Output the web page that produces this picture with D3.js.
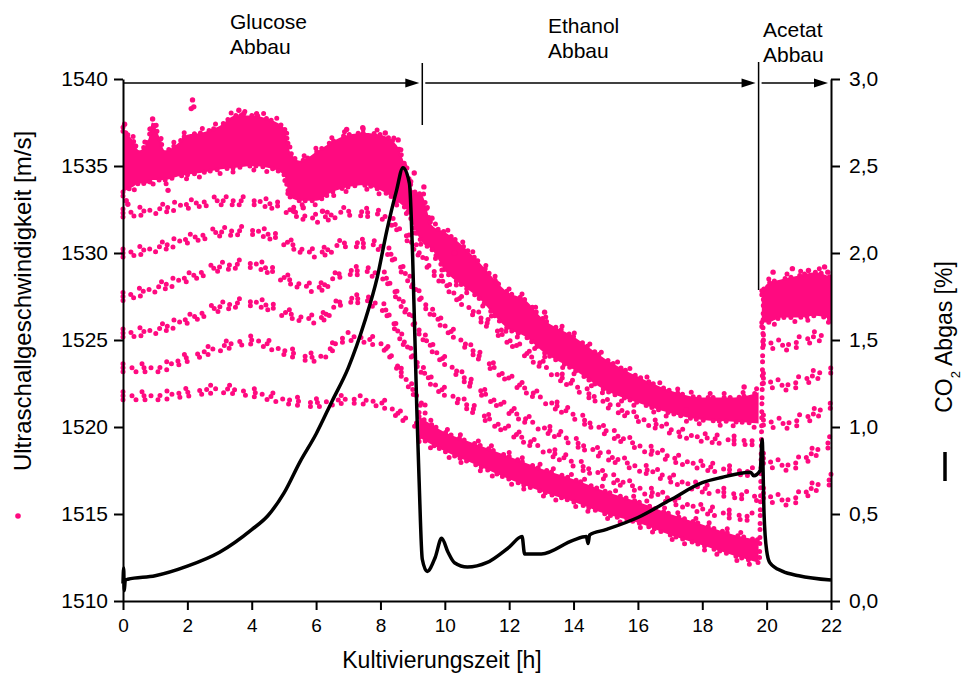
<!DOCTYPE html>
<html>
<head>
<meta charset="utf-8">
<script src="https://cdn.jsdelivr.net/npm/d3@7"></script>
<style>
body { margin: 0; background: #fff; }
svg text { font-family: "Liberation Sans", Arial, Helvetica, sans-serif; fill: #000; }
.axis path, .axis line { stroke: #000; stroke-width: 2; }
.axis text { font-size: 21px; }
.axis.bottom text { font-size: 19px; }
</style>
</head>
<body>
<svg id="chart" width="962" height="674"></svg>
<script>
// ---- ultrasound velocity [m/s], dense main band (glucose + ethanol phase)
var bandT  = [0,0.3,0.5,0.8,0.9,1.1,1.3,1.7,2.0,2.4,3.0,3.5,4.0,4.5,5.0,5.2,5.5,6.0,6.5,7.0,7.5,8.0,8.5,8.9,9.0,9.3,9.6,10,10.5,11,12,12.5,13,14,15,16,17,18,19,19.75];
var bandHi = [1537.0,1536.5,1535.9,1536.6,1537.5,1536.8,1535.9,1536.3,1536.8,1536.9,1537.3,1537.9,1537.9,1537.7,1537.2,1535.8,1535.3,1535.8,1536.4,1536.8,1536.9,1536.8,1536.2,1534.2,1533.6,1533.3,1531.6,1531.2,1530.5,1529.6,1527.7,1527.3,1526.3,1525.2,1523.9,1522.9,1522.1,1521.7,1521.7,1522.0];
var bandLo = [1533.5,1533.8,1534.0,1534.0,1534.2,1534.2,1534.2,1534.4,1534.5,1534.6,1534.8,1534.9,1535.0,1534.9,1534.5,1533.2,1533.0,1533.0,1533.5,1533.8,1533.9,1533.6,1533.0,1532.2,1531.7,1530.6,1530.2,1529.0,1528.2,1527.5,1525.6,1525.2,1524.4,1523.3,1522.1,1521.4,1520.8,1520.4,1520.3,1520.2];

// lower dense band during ethanol phase
var lowT  = [9.2,10,11,12,13,14,15,16,17,18,19,19.75];
var lowHi = [1520.6,1519.7,1519.0,1518.3,1517.6,1517.0,1516.3,1515.7,1515.0,1514.4,1513.8,1513.5];
var lowLo = [1519.4,1518.6,1517.8,1517.0,1516.3,1515.7,1515.0,1514.5,1513.8,1513.2,1512.6,1512.2];

// acetate phase band
var acetT  = [19.85,20.0,20.5,21.0,21.5,22.0];
var acetHi = [1527.6,1528.2,1528.5,1528.7,1528.9,1528.6];
var acetLo = [1526.0,1526.0,1526.3,1526.3,1526.4,1526.2];

// sparse echo rows below the main band
var echoT = [0,1,2,3,4,5,6,7,8,8.7,9.5,10.5,12,13.5,15,16.5,18,19.7];
var echo1 = [1532.3,1532.5,1532.8,1533.0,1533.0,1532.6,1532.0,1532.4,1532.2,1531.2,1529.3,1527.3,1525.0,1523.0,1521.4,1520.2,1519.4,1519.2];
var echo2 = [1530.0,1530.3,1530.8,1531.2,1531.3,1530.7,1530.0,1530.6,1530.4,1529.0,1526.8,1525.0,1522.8,1521.2,1519.8,1518.6,1517.8,1517.4];
var echo3 = [1527.5,1528.0,1528.6,1529.2,1529.4,1528.6,1528.0,1529.0,1528.8,1527.0,1524.8,1523.0,1521.0,1519.6,1518.4,1517.4,1516.5,1516.0];
var echo4 = [1525.4,1525.6,1526.2,1526.9,1527.2,1526.6,1526.2,1527.4,1527.0,1525.0,1522.8,1521.5,1519.8,1518.4,1517.2,1516.2,1515.3,1514.8];
var shortT = [0,1,2,3,4,5,6,7,8,8.7,9.4];
var echo5 = [1523.4,1523.4,1524.0,1524.6,1525.0,1524.4,1524.0,1525.2,1524.8,1523.0,1521.0];
var echo6 = [1521.8,1521.8,1522.0,1522.2,1522.0,1521.6,1521.4,1521.6,1521.4,1520.6,1520.0];

var acetEchoT = [19.9,20.5,21.0,21.5,22.0];
var acet1 = [1525.0,1524.7,1524.9,1525.2,1525.3];
var acet2 = [1522.8,1522.4,1522.6,1523.0,1523.4];
var acet3 = [1520.4,1520.2,1520.4,1520.8,1521.4];
var acet4 = [1518.2,1517.8,1518.0,1518.6,1519.2];
var acet5 = [1516.2,1515.8,1516.0,1516.6,1517.0];

// step up at the start of the acetate phase
var jumpT = [19.78,19.82,19.86,19.9];
var jumpV = [1512.5,1517.0,1522.0,1527.5];

// single stray points
var outT = [0.05,0.08,0.92,0.97,2.12,2.16,2.2,3.6,3.75,4.15,6.95,7.45,8.15,8.55,8.75,9.05,9.35,0.1,0.15,1.4,5.3,5.6,6.2,9.6,10.3,11.6,13.1,17.5,19.3,20.2,20.8,21.3,21.8,21.9];
var outV = [1537.4,1536.9,1537.7,1537.3,1538.3,1538.8,1538.4,1538.2,1538.0,1538.0,1537.1,1537.2,1536.9,1536.5,1535.0,1534.6,1533.8,1533.0,1532.8,1533.6,1532.4,1532.6,1532.4,1532.0,1530.0,1528.3,1526.6,1521.0,1522.3,1528.9,1529.1,1529.0,1529.2,1528.9];

// ---- CO2 off-gas [%]
var co2T = [0,0.02,0.04,0.07,0.15,1,2,3,4,4.5,5,5.5,6,6.5,7,7.5,7.9,8.2,8.5,8.7,8.9,9.0,9.13,9.2,9.3,9.45,9.7,9.9,10.1,10.3,10.7,11.3,12,12.4,12.48,13,14,14.4,14.45,14.5,15,16,17,18,18.6,19.5,19.6,19.8,19.86,19.92,20.0,20.1,20.5,21,22];
var co2V = [0.10,0.19,0.06,0.12,0.125,0.145,0.20,0.28,0.41,0.49,0.62,0.80,0.96,1.15,1.34,1.60,1.86,2.13,2.36,2.49,2.40,1.98,1.10,0.70,0.24,0.17,0.25,0.36,0.28,0.22,0.195,0.22,0.31,0.37,0.27,0.27,0.35,0.37,0.33,0.38,0.41,0.48,0.58,0.68,0.71,0.74,0.72,0.75,0.93,0.50,0.29,0.22,0.17,0.145,0.12];

// ---- phases (annotation on top)
var phaseNames = ["Glucose", "Ethanol", "Acetat"];
var phaseBounds = [0, 9.3, 19.75, 22];

var xTicks = d3.range(0, 23, 2);
var yLTicks = d3.range(1510, 1541, 5);
var yRTicks = d3.range(0, 3.01, 0.5);

var PINK = "#ff0a80";
var svg = d3.select("#chart");

var x  = d3.scaleLinear().domain([0, 22]).range([123, 831]);
var yL = d3.scaleLinear().domain([1510, 1540]).range([601, 79]);
var yR = d3.scaleLinear().domain([0, 3]).range([601, 79]);

var pts = svg.append("g");
var line = d3.line().x(function(d){ return x(d[0]); }).y(function(d){ return yL(d[1]); }).curve(d3.curveMonotoneX);
var area = d3.area().x(function(d){ return x(d[0]); }).y0(function(d){ return yL(d[1]); }).y1(function(d){ return yL(d[2]); }).curve(d3.curveMonotoneX);

function band(t, lo, hi) {
  var rows = t.map(function(v, i){ return [v, lo[i], hi[i]]; });
  pts.append("path").datum(rows).attr("d", area).attr("fill", PINK);
  dotted(t, hi, "0 6 0 9 0 5 0 11", 0);
  dotted(t, hi, "0 14 0 19", -4);
  dotted(t, lo, "0 7 0 10 0 6", 0);
  dotted(t, lo, "0 13 0 21", 4);
}

function dotted(t, v, dash, dy) {
  pts.append("path").datum(d3.zip(t, v)).attr("d", line)
    .attr("fill", "none").attr("stroke", PINK).attr("stroke-width", 5)
    .attr("stroke-linecap", "round").attr("stroke-dasharray", dash)
    .attr("transform", "translate(0," + dy + ")");
}

// echo rows: a few passes, slightly apart, for a scattered look
[echo1, echo2, echo3, echo4].forEach(function(e){
  dotted(echoT, e, "0 8 0 13 0 6 0 10", 0);
  dotted(echoT, e, "0 11 0 7 0 15", 4);
  dotted(echoT, e, "0 17 0 23 0 12", -4);
});
[echo5, echo6].forEach(function(e){
  dotted(shortT, e, "0 9 0 12 0 7", 0);
  dotted(shortT, e, "0 13 0 9", 4);
  dotted(shortT, e, "0 19 0 25", -4);
});
[acet1, acet2, acet3, acet4, acet5].forEach(function(e){
  dotted(acetEchoT, e, "0 8 0 12 0 6", 0);
  dotted(acetEchoT, e, "0 10 0 14", 5);
  dotted(acetEchoT, e, "0 16 0 21", -5);
});
dotted(jumpT, jumpV, "0 6 0 8", 0);

band(bandT, bandLo, bandHi);
band(lowT, lowLo, lowHi);
band(acetT, acetLo, acetHi);

pts.selectAll("circle.out").data(d3.zip(outT, outV)).enter().append("circle")
  .attr("cx", function(d){ return x(d[0]); }).attr("cy", function(d){ return yL(d[1]); })
  .attr("r", 2.7).attr("fill", PINK);

// CO2 line on top
var co2Line = d3.line().x(function(d){ return x(d[0]); }).y(function(d){ return yR(d[1]); }).curve(d3.curveMonotoneX);
svg.append("path").datum(d3.zip(co2T, co2V)).attr("d", co2Line)
  .attr("fill", "none").attr("stroke", "#000").attr("stroke-width", 3.5)
  .attr("stroke-linejoin", "round");

// ---- axes
var deFmt = d3.formatLocale({decimal: ",", thousands: ".", grouping: [3], currency: ["", ""]}).format(".1f");

var gB = svg.append("g").attr("class", "axis bottom").attr("transform", "translate(0,601)");
gB.call(d3.axisBottom(x).tickValues(d3.range(1, 22, 2)).tickSize(5).tickSizeOuter(0).tickFormat(""));
gB.call(d3.axisBottom(x).tickValues(xTicks).tickSize(9).tickPadding(9).tickSizeOuter(0).tickFormat(d3.format("d")));

var gL = svg.append("g").attr("class", "axis").attr("transform", "translate(123,0)");
gL.call(d3.axisLeft(yL).tickValues(d3.range(1512.5, 1540, 5)).tickSize(5).tickSizeOuter(0).tickFormat(""));
gL.call(d3.axisLeft(yL).tickValues(yLTicks).tickSize(9).tickPadding(6).tickSizeOuter(0).tickFormat(d3.format("d")));

var gR = svg.append("g").attr("class", "axis").attr("transform", "translate(831,0)");
gR.call(d3.axisRight(yR).tickValues(d3.range(0.25, 3, 0.5)).tickSize(5).tickSizeOuter(0).tickFormat(""));
gR.call(d3.axisRight(yR).tickValues(yRTicks).tickSize(9).tickPadding(9).tickSizeOuter(0).tickFormat(deFmt));

// ---- titles
svg.append("text").attr("x", 442).attr("y", 668).attr("text-anchor", "middle")
  .style("font-size", "23px").text("Kultivierungszeit [h]");

svg.append("text").attr("transform", "translate(31,301) rotate(-90)").attr("text-anchor", "middle")
  .style("font-size", "24px").text("Ultraschallgeschwindigkeit [m/s]");
svg.append("circle").attr("cx", 18).attr("cy", 516).attr("r", 2.8).attr("fill", PINK);

var rt = svg.append("text").attr("transform", "translate(952,337) rotate(-90)").attr("text-anchor", "middle")
  .style("font-size", "23px");
rt.append("tspan").text("CO");
rt.append("tspan").attr("baseline-shift", "sub").style("font-size", "13px").text("2");
rt.append("tspan").text(" Abgas [%]");
svg.append("line").attr("x1", 945).attr("x2", 945).attr("y1", 452).attr("y2", 481)
  .attr("stroke", "#000").attr("stroke-width", 3.5);

// ---- phase arrows and labels
var arrowY = 83;
var ann = svg.append("g");
for (var i = 0; i < phaseNames.length; i++) {
  var x0 = x(phaseBounds[i]) + (i ? 3 : 0), x1 = x(phaseBounds[i + 1]) - 3;
  ann.append("line").attr("x1", x0).attr("x2", x1 - 10).attr("y1", arrowY).attr("y2", arrowY)
    .attr("stroke", "#000").attr("stroke-width", 1.6);
  ann.append("path").attr("d", "M" + x1 + "," + arrowY + "L" + (x1 - 14) + "," + (arrowY - 4.5) + "L" + (x1 - 14) + "," + (arrowY + 4.5) + "Z")
    .attr("fill", "#000");
}
ann.append("line").attr("x1", x(phaseBounds[1])).attr("x2", x(phaseBounds[1])).attr("y1", 63).attr("y2", 125)
  .attr("stroke", "#000").attr("stroke-width", 1.5);
ann.append("line").attr("x1", x(phaseBounds[2])).attr("x2", x(phaseBounds[2])).attr("y1", 62).attr("y2", 290)
  .attr("stroke", "#000").attr("stroke-width", 1.5);

var labelX = [230, 548, 763], labelY = [29, 33, 37];
phaseNames.forEach(function(n, i){
  var t = ann.append("text").attr("x", labelX[i]).attr("y", labelY[i]).style("font-size", "21px");
  t.append("tspan").attr("x", labelX[i]).text(n);
  t.append("tspan").attr("x", labelX[i]).attr("dy", 25).text("Abbau");
});
</script>
</body>
</html>
